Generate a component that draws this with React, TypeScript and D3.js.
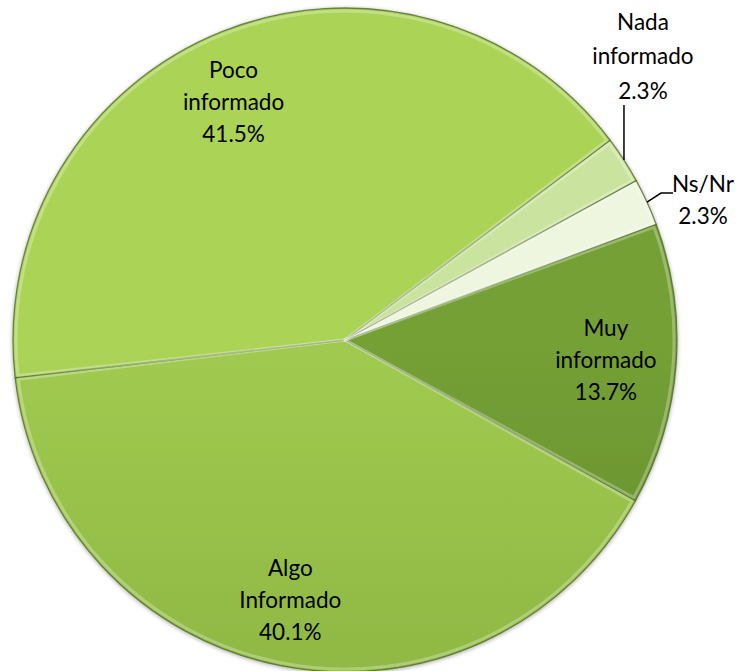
import React from "react"
import * as d3 from "d3"

// survey answers, percent
const categories = ["Muy informado", "Algo Informado", "Poco informado", "Nada informado", "Ns/Nr"]
const values = [13.7, 40.1, 41.5, 2.3, 2.3]
const labelLines = [
	["Muy", "informado", "13.7%"],
	["Algo", "Informado", "40.1%"],
	["Poco", "informado", "41.5%"],
	["Nada", "informado", "2.3%"],
	["Ns/Nr", "2.3%"],
]
// top / bottom colour of each slice gradient
const shades = [
	["#74a036", "#557824"],
	["#a0ca50", "#7ea637"],
	["#abd357", "#80a839"],
	["#cae39e", "#a6c677"],
	["#eef6df", "#d0e4b2"],
]

const width = 740
const height = 671
const cx = 345
const cy = 340
const radius = 332
const startDeg = 69.6

const App = () => {
	const pie = d3
		.pie<number>()
		.sort(null)
		.startAngle((startDeg * Math.PI) / 180)
		.endAngle((startDeg * Math.PI) / 180 + 2 * Math.PI)
	const arcs = pie(values)

	const arc = d3.arc<d3.PieArcDatum<number>>().innerRadius(0).outerRadius(radius)
	const bevel = d3
		.arc<d3.PieArcDatum<number>>()
		.innerRadius(0)
		.outerRadius(radius - 3)
		.padAngle(0.012)
	const labelArc = d3
		.arc<d3.PieArcDatum<number>>()
		.innerRadius(radius * 0.8)
		.outerRadius(radius * 0.8)
	const edgeArc = d3.arc<d3.PieArcDatum<number>>().innerRadius(radius).outerRadius(radius)

	// small nudges Excel applied to inside labels
	const nudge = [
		[-4, 0],
		[-3, 0],
		[-13, 9],
	]

	const fontSize = 22.5
	const lineH = 32

	return (
		<svg width={width} height={height} style={{ position: "absolute", left: 0, top: 0 }}>
			<defs>
				{shades.map((s, i) => (
					<linearGradient
						key={i}
						id={`g${i}`}
						gradientUnits="userSpaceOnUse"
						x1={0}
						y1={cy - radius}
						x2={0}
						y2={cy + radius}
					>
						<stop offset="0" stopColor={s[0]} />
						<stop offset="1" stopColor={s[1]} />
					</linearGradient>
				))}
				<filter id="shadow" x="-10%" y="-10%" width="120%" height="120%">
					<feGaussianBlur in="SourceAlpha" stdDeviation="2" />
					<feOffset dx="0" dy="1" />
					<feComponentTransfer>
						<feFuncA type="linear" slope="0.35" />
					</feComponentTransfer>
					<feMerge>
						<feMergeNode />
						<feMergeNode in="SourceGraphic" />
					</feMerge>
				</filter>
			</defs>
			<g transform={`translate(${cx},${cy})`}>
				<g filter="url(#shadow)">
					{arcs.map((a, i) => (
						<path
							key={i}
							d={arc(a) || ""}
							fill={`url(#g${i})`}
							stroke="#4a6520"
							strokeOpacity={0.75}
							strokeWidth={1.3}
						/>
					))}
				</g>
				{arcs.map((a, i) => (
					<path
						key={"b" + i}
						d={bevel(a) || ""}
						fill="none"
						stroke="#ffffff"
						strokeOpacity={0.28}
						strokeWidth={3}
						strokeLinejoin="round"
					/>
				))}
			</g>
			<g fontFamily="Lato, 'Open Sans', sans-serif" fontSize={fontSize} fill="#000">
				{arcs.slice(0, 3).map((a, i) => {
					const [x, y] = labelArc.centroid(a)
					const lines = labelLines[i]
					const top = cy + y + nudge[i][1] - ((lines.length - 1) * lineH) / 2
					return (
						<text key={i} textAnchor="middle">
							{lines.map((t, j) => (
								<tspan key={j} x={cx + x + nudge[i][0]} y={top + j * lineH} dy="0.35em">
									{t}
								</tspan>
							))}
						</text>
					)
				})}
				{(() => {
					// Nada informado: vertical leader above slice edge
					const [ex, ey] = edgeArc.centroid(arcs[3])
					const px = cx + ex
					const py = cy + ey
					return (
						<g>
							<path d={`M${px},${py}V${py - 55}`} stroke="#000" strokeWidth={1.5} fill="none" />
							<text textAnchor="middle">
								{labelLines[3].map((t, j) => (
									<tspan key={j} x={px + 19} y={22 + j * 34.5} dy="0.35em">
										{t}
									</tspan>
								))}
							</text>
						</g>
					)
				})()}
				{(() => {
					// Ns/Nr: short elbow leader to the right
					const [ex, ey] = edgeArc.centroid(arcs[4])
					const px = cx + ex
					const py = cy + ey
					return (
						<g>
							<path
								d={`M${px},${py}L${px + 14},${py - 9}H${px + 26}`}
								stroke="#000"
								strokeWidth={1.5}
								fill="none"
							/>
							<text textAnchor="middle">
								{labelLines[4].map((t, j) => (
									<tspan key={j} x={px + 56} y={184 + j * 32} dy="0.35em">
										{t}
									</tspan>
								))}
							</text>
						</g>
					)
				})()}
			</g>
		</svg>
	)
}

export default App
